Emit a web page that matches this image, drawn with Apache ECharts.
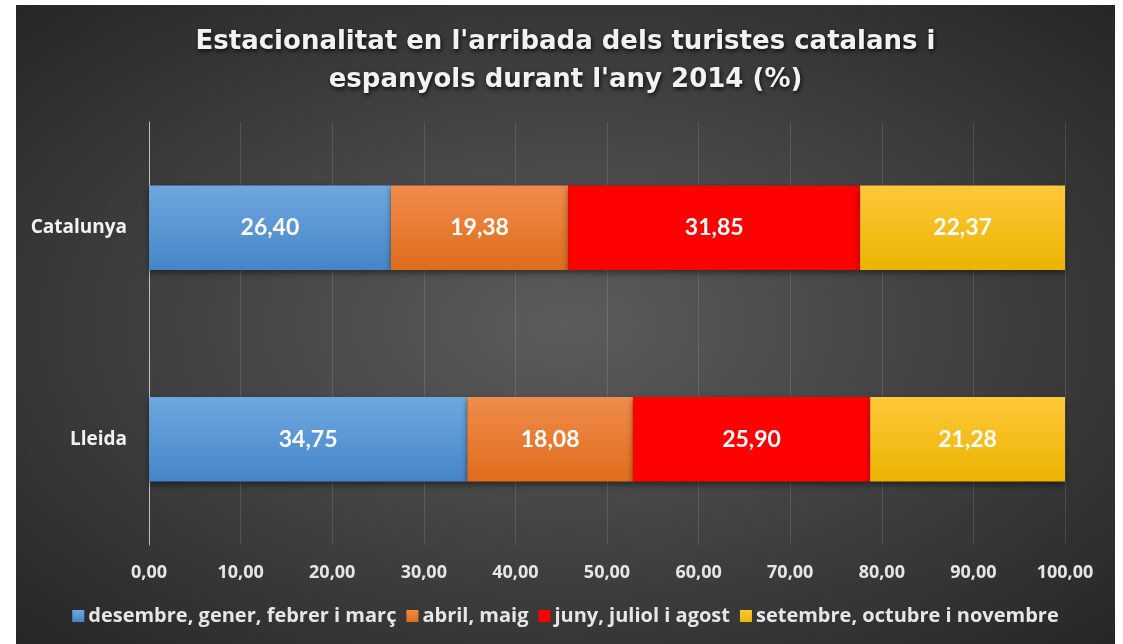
<!DOCTYPE html>
<html>
<head>
<meta charset="utf-8">
<script src="https://cdn.jsdelivr.net/npm/echarts@6/dist/echarts.min.js"></script>
<style>
  html, body { margin: 0; padding: 0; background: #ffffff; }
  #panel {
    position: absolute;
    left: 16px;
    top: 5px;
    width: 1099px;
    height: 639px;
    background: radial-gradient(ellipse at 50% 50%, #5c5c5c 0%, #444444 45%, #262626 100%);
  }
  #estacionalitatChart { width: 100%; height: 100%; }
</style>
</head>
<body>
<div id="panel">
  <div id="estacionalitatChart"></div>
</div>
<script>
// dades (%)
const territoris = ['Catalunya', 'Lleida']
const periodes = ['desembre, gener, febrer i març', 'abril, maig', 'juny, juliol i agost', 'setembre, octubre i novembre']
const hivern = [26.40, 34.75]
const primavera = [19.38, 18.08]
const estiu = [31.85, 25.90]
const tardor = [22.37, 21.28]
const xTicks = [0, 10, 20, 30, 40, 50, 60, 70, 80, 90, 100]

const fontLabels = 'Lato, "Open Sans", sans-serif'
const fontText = '"Open Sans", Lato, sans-serif'
const fontTitle = '"DejaVu Sans", "Open Sans", sans-serif'

// degradat vertical per a les barres
function grad (top, bottom) {
  return new echarts.graphic.LinearGradient(0, 0, 0, 1, [
    { offset: 0, color: top },
    { offset: 1, color: bottom }
  ])
}

const barColors = [
  grad('#6fa8e0', '#4585c8'),
  grad('#f08c4c', '#e06c1c'),
  '#ff0000',
  grad('#ffc83a', '#ebb400')
]
const legendColors = ['#5b9bd5', '#ed7d31', '#ff0000', '#ffc000']

const seriesData = [hivern, primavera, estiu, tardor]

const chart = echarts.init(document.getElementById('estacionalitatChart'))

const option = {
  animation: false,
  color: legendColors,
  title: {
    text: "Estacionalitat en l'arribada dels turistes catalans i\nespanyols durant l'any 2014 (%)",
    left: 'center',
    top: 13,
    textStyle: {
      color: '#f2f2f2',
      fontFamily: fontTitle,
      fontWeight: 'bold',
      fontSize: 26,
      lineHeight: 38,
      textShadowColor: 'rgba(0,0,0,0.8)',
      textShadowBlur: 4,
      textShadowOffsetX: 1,
      textShadowOffsetY: 2
    }
  },
  legend: {
    data: periodes,
    bottom: 13,
    left: 'center',
    icon: 'rect',
    itemWidth: 12,
    itemHeight: 12,
    itemGap: 10,
    textStyle: {
      color: '#e6e6e6',
      fontFamily: fontText,
      fontWeight: 'bold',
      fontSize: 20,
      padding: [0, 0, 0, -1]
    }
  },
  grid: {
    left: 133,
    right: 50,
    top: 117,
    bottom: 99
  },
  xAxis: {
    type: 'value',
    min: 0,
    max: 100,
    interval: 10,
    axisLine: { show: false },
    axisTick: { show: false },
    splitLine: {
      show: true,
      lineStyle: { color: 'rgba(255,255,255,0.12)', width: 1 }
    },
    axisLabel: {
      color: '#e6e6e6',
      fontFamily: fontText,
      fontWeight: 'bold',
      fontSize: 18,
      margin: 19,
      formatter: v => xTicks.includes(v) ? v.toFixed(2).replace('.', ',') : ''
    }
  },
  yAxis: {
    type: 'category',
    data: territoris,
    inverse: true,
    axisTick: { show: false },
    axisLine: {
      show: true,
      lineStyle: { color: '#bfbfbf', width: 1 }
    },
    axisLabel: {
      color: '#f2f2f2',
      fontFamily: fontText,
      fontWeight: 'bold',
      fontSize: 19,
      margin: 22
    }
  },
  series: periodes.map((nom, i) => ({
    name: nom,
    type: 'bar',
    stack: 'total',
    barWidth: '40%',
    data: seriesData[i],
    itemStyle: {
      color: barColors[i],
      shadowColor: 'rgba(0,0,0,0.45)',
      shadowBlur: 6,
      shadowOffsetY: 3
    },
    label: {
      show: true,
      position: 'inside',
      color: '#ffffff',
      fontFamily: fontLabels,
      fontWeight: 'bold',
      fontSize: 23,
      formatter: p => p.value.toFixed(2).replace('.', ',')
    }
  }))
}

chart.setOption(option)
window.addEventListener('resize', () => {
  chart.resize()
})
</script>
</body>
</html>
